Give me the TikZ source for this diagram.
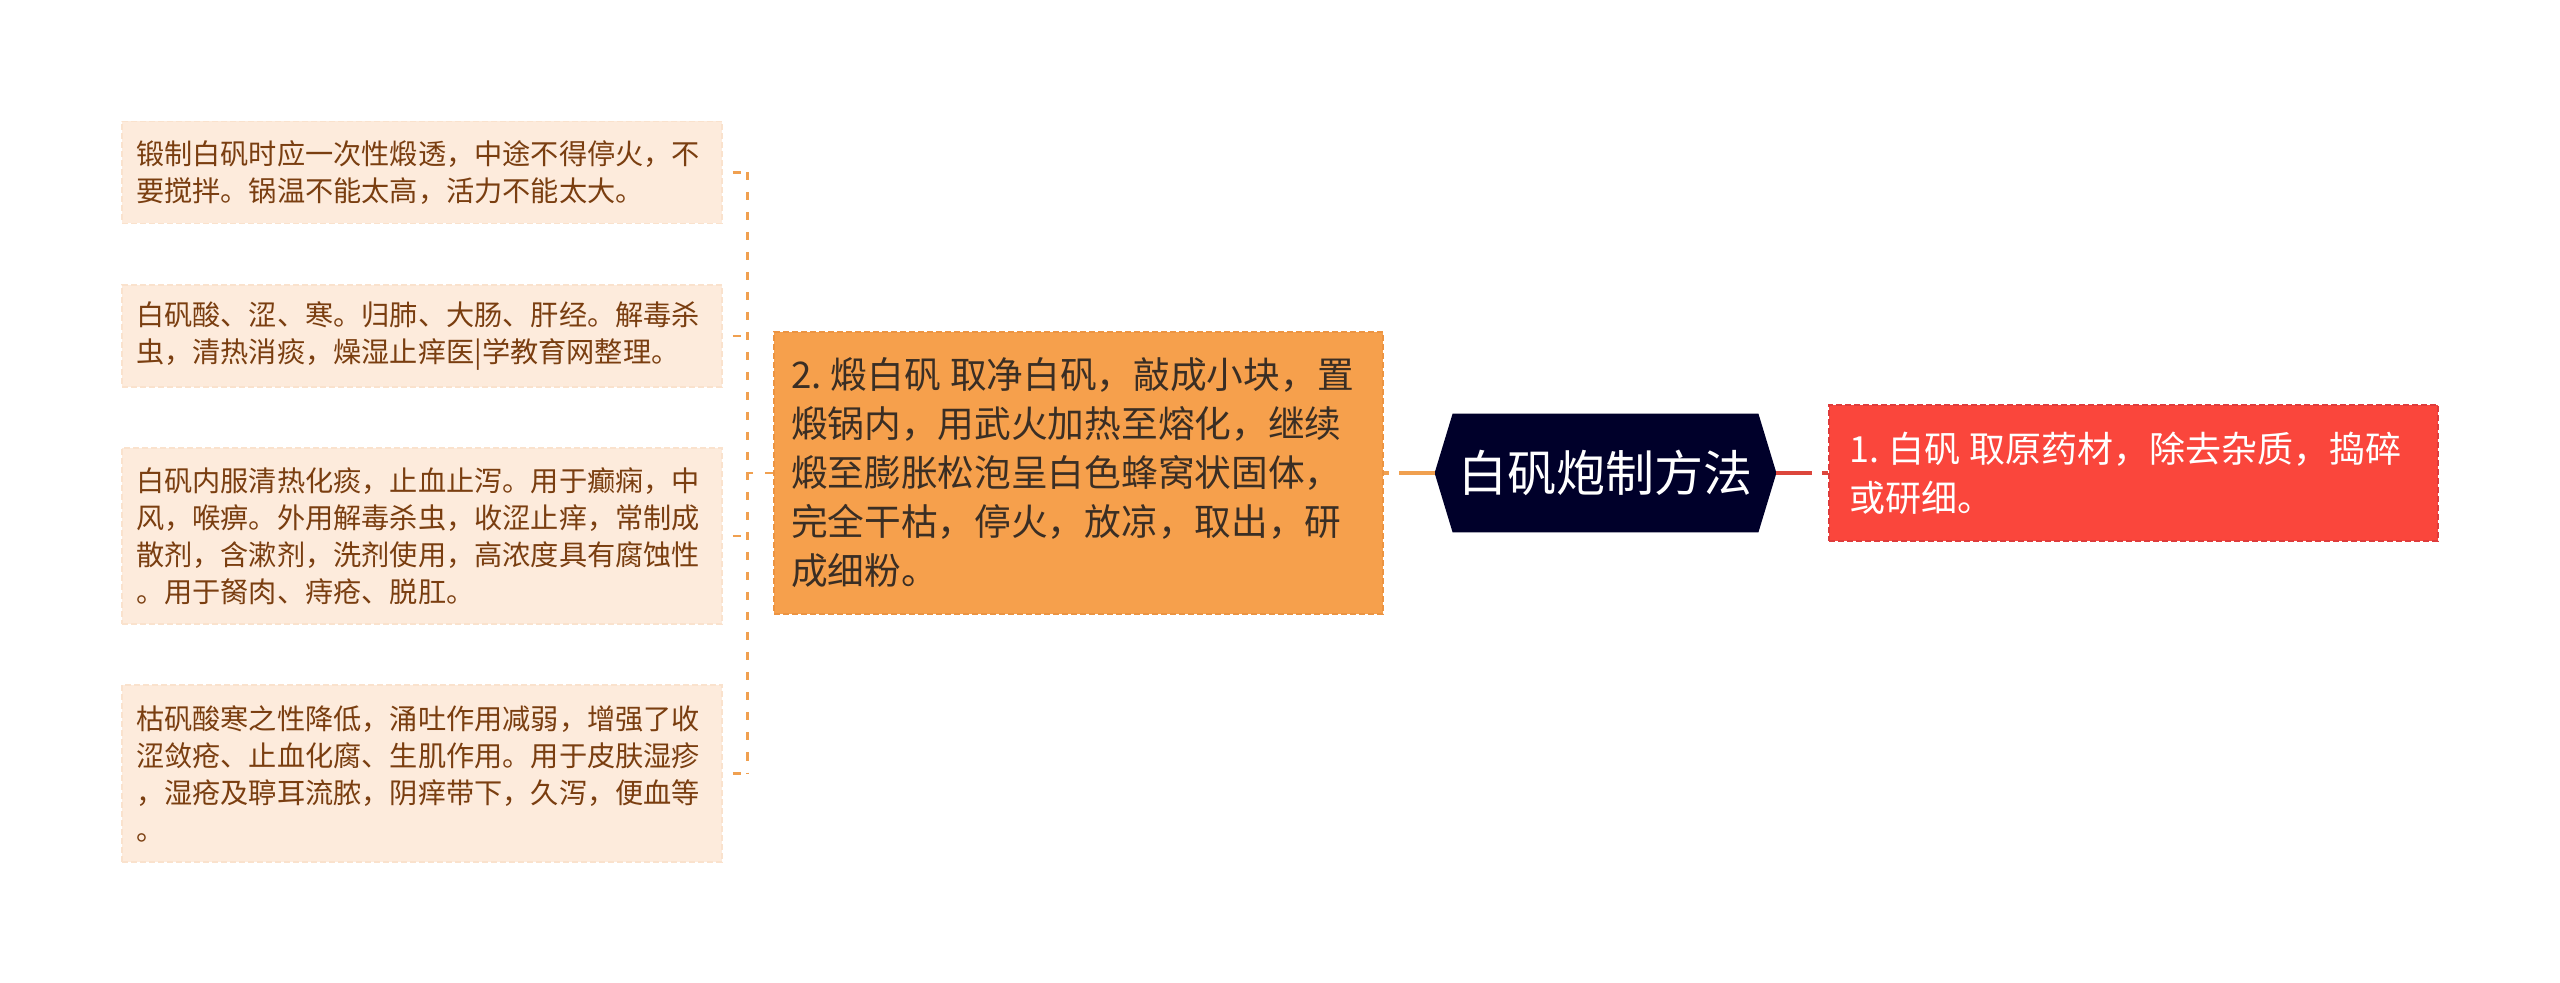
\documentclass[tikz,border=0pt]{standalone}
\usepackage{fontspec}
\setmainfont{Noto Sans CJK SC}
\usetikzlibrary{backgrounds}
\definecolor{lightfill}{HTML}{FDEBDC}
\definecolor{lightborder}{HTML}{FAE2CD}
\definecolor{browntext}{HTML}{7A3E10}
\definecolor{orangefill}{HTML}{F6A04C}
\definecolor{orangeborder}{HTML}{EC9442}
\definecolor{orangetext}{HTML}{3A2E24}
\definecolor{redfill}{HTML}{FA463C}
\definecolor{redborder}{HTML}{DE3C3C}
\definecolor{hexfill}{HTML}{00002A}
\definecolor{orangeline}{HTML}{F0A050}
\definecolor{redline}{HTML}{DC463C}
\tikzset{
  lightbox/.style={rectangle, fill=lightfill, draw=lightborder, line width=0.8pt,
    dash pattern=on 3pt off 1.5pt, text=browntext, align=left,
    text width=286pt, inner xsep=7pt, inner ysep=0pt, minimum width=300pt,
    font=\fontsize{14.1pt}{18.5pt}\selectfont},
  orangebox/.style={rectangle, fill=orangefill, draw=orangeborder, line width=0.8pt,
    dash pattern=on 3pt off 1.5pt, text=orangetext, align=left,
    text width=287.5pt, inner xsep=8.5pt, inner ysep=0pt, minimum width=304.5pt,
    minimum height=141pt, font=\fontsize{18.35pt}{24.5pt}\selectfont},
  redbox/.style={rectangle, fill=redfill, draw=redborder, line width=0.8pt,
    dash pattern=on 3pt off 1.5pt, text=white, align=left,
    text width=284.5pt, inner xsep=10pt, inner ysep=0pt, minimum width=304.5pt,
    minimum height=68pt, font=\fontsize{18pt}{24.5pt}\selectfont},
  hexnode/.style={rectangle, inner sep=0pt, minimum width=170.5pt, minimum height=59pt,
    text=white, font=\fontsize{24.5pt}{28pt}\selectfont},
  brk/.style={draw=orangeline, line width=1.4pt, dash pattern=on 4pt off 6pt},
  conn/.style={line width=1.6pt, dash pattern=on 18pt off 5pt},
}
\begin{document}
\begin{tikzpicture}[x=0.5pt,y=-0.5pt]
\useasboundingbox (0,0) rectangle (2560,983);

\node[lightbox, minimum height=51pt] (b1) at (422,172.5) {锻制白矾时应一次性煅透，中途不得停火，不\\要搅拌。锅温不能太高，活力不能太大。};
\node[lightbox, minimum height=51pt] (b2) at (422,336) {白矾酸、涩、寒。归肺、大肠、肝经。解毒杀\\虫，清热消痰，燥湿止痒医|学教育网整理。};
\node[lightbox, minimum height=88pt] (b3) at (422,536) {白矾内服清热化痰，止血止泻。用于癫痫，中\\风，喉痹。外用解毒杀虫，收涩止痒，常制成\\散剂，含漱剂，洗剂使用，高浓度具有腐蚀性\\。用于胬肉、痔疮、脱肛。};
\node[lightbox, minimum height=88.5pt] (b4) at (422,773.5) {枯矾酸寒之性降低，涌吐作用减弱，增强了收\\涩敛疮、止血化腐、生肌作用。用于皮肤湿疹\\，湿疮及聤耳流脓，阴痒带下，久泻，便血等\\。};

\node[orangebox] (o) at (1078.5,473) {2.\hspace{0.25em}煅白矾\hspace{0.25em}取净白矾，敲成小块，置\\煅锅内，用武火加热至熔化，继续\\煅至膨胀松泡呈白色蜂窝状固体，\\完全干枯，停火，放凉，取出，研\\成细粉。};

\node[hexnode] (c) at (1605.5,473) {白矾炮制方法};

\node[redbox] (r) at (2133.5,473) {1.\hspace{0.25em}白矾\hspace{0.25em}取原药材，除去杂质，捣碎\\或研细。};

\begin{pgfonlayer}{background}
\fill[white] (0,0) rectangle (2560,983);
\fill[hexfill] ([xshift=9pt]c.north west) -- ([xshift=-9pt]c.north east) -- (c.east)
  -- ([xshift=-9pt]c.south east) -- ([xshift=9pt]c.south west) -- (c.west) -- cycle;
\end{pgfonlayer}

\draw[conn, draw=orangeline] (c.west) -- (o.east);
\draw[conn, draw=redline] (c.east) -- (r.west);

\draw[brk] (o.west) -- ++(-26,0) coordinate (j);
\draw[brk] (j |- b1.east) -- (j |- b4.east);
\draw[brk] ([xshift=5pt]b1.east) -- (j |- b1.east);
\draw[brk] ([xshift=5pt]b2.east) -- (j |- b2.east);
\draw[brk] ([xshift=5pt]b3.east) -- (j |- b3.east);
\draw[brk] ([xshift=5pt]b4.east) -- (j |- b4.east);
\end{tikzpicture}
\end{document}
